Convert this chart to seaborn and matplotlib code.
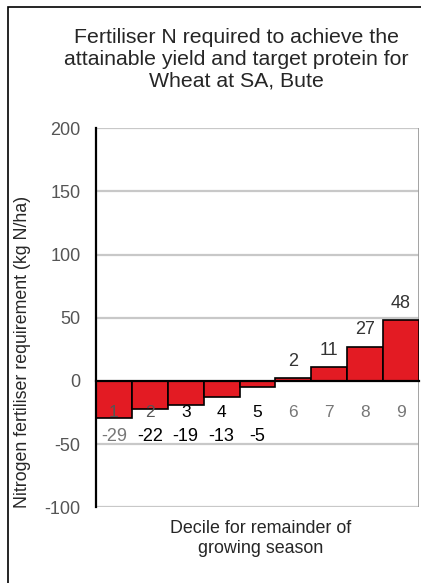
import numpy as np
import pandas as pd
import seaborn as sns
import matplotlib.pyplot as plt
from matplotlib.patches import Rectangle
from matplotlib.ticker import FixedLocator

# 数据
deciles = ["1", "2", "3", "4", "5", "6", "7", "8", "9"]
n_required = [-29, -22, -19, -13, -5, 2, 11, 27, 48]
y_ticks = [-100, -50, 0, 50, 100, 150, 200]

TITLE = "Fertiliser N required to achieve the\nattainable yield and target protein for\nWheat at SA, Bute"
XLABEL = "Decile for remainder of\ngrowing season"
YLABEL = "Nitrogen fertiliser requirement (kg N/ha)"

sns.set_style("white")
plt.rcParams['font.family'] = ['Liberation Sans', 'DejaVu Sans']
plt.rcParams['axes.unicode_minus'] = False

df = pd.DataFrame({"Decile": deciles, "N": n_required})

fig = plt.figure(figsize=(4.21, 5.83), dpi=100)
ax = fig.add_axes([0.228, 0.130, 0.767, 0.650])

sns.barplot(data=df, x="Decile", y="N", color="#E31B23", width=1.0,
            edgecolor="black", linewidth=1.2, saturation=1, ax=ax)

ax.set_xlim(-0.5, len(deciles) - 0.5)
ax.set_ylim(min(y_ticks), max(y_ticks))
ax.set_yticks(y_ticks)
ax.set_axisbelow(False)

# 网格线
for t in y_ticks:
    if t != 0:
        ax.axhline(t, color="#c8c8c8", lw=1.6, zorder=0)

# 坐标轴样式
for s in ["top", "right"]:
    ax.spines[s].set_visible(False)
ax.spines["left"].set_color("black")
ax.spines["left"].set_linewidth(1.6)
ax.spines["bottom"].set_position(("data", 0))
ax.spines["bottom"].set_color("black")
ax.spines["bottom"].set_linewidth(1.6)
ax.spines["bottom"].set_zorder(5)

# 右侧边框
ax.axvline(len(deciles) - 0.5, color="#9a9a9a", lw=2, zorder=0)

ax.tick_params(axis="y", direction="out", length=5, width=1.5, color="black",
               labelsize=13, labelcolor="#555555", pad=6)
ax.tick_params(axis="x", which="major", length=0, pad=17, labelsize=12.5)
ax.xaxis.set_minor_locator(FixedLocator(np.arange(len(deciles) + 1) - 0.5))
ax.tick_params(axis="x", which="minor", direction="out", length=5, width=1.5, color="black")

tick_colors = ["#555555", "#555555", "black", "black", "black",
               "#777777", "#777777", "#777777", "#777777"]
for lbl, c in zip(ax.get_xticklabels(), tick_colors):
    lbl.set_color(c)

ax.set_xlabel("")
ax.set_ylabel(YLABEL, fontsize=12.8, labelpad=4)
ax.yaxis.set_label_coords(-0.2, 0.41)

# 数值标签
NEG_LABEL_Y = -44
for i, v in enumerate(n_required):
    if v < 0:
        c = "#777777" if i == 0 else "black"
        ax.text(i, NEG_LABEL_Y, str(v), ha="center", va="center", fontsize=13, color=c)
    else:
        ax.annotate(str(v), (i, v), xytext=(0, 6), textcoords="offset points",
                    ha="center", va="bottom", fontsize=13, color="#333333")

fig.text(0.562, 0.952, TITLE, ha="center", va="top", fontsize=15.3, linespacing=1.18)
fig.text(0.618, 0.108, XLABEL, ha="center", va="top", fontsize=12.9, linespacing=1.2)

# 外框
fig.patches.append(Rectangle((0.019, -0.01), 1.0, 0.998, transform=fig.transFigure,
                             fill=False, edgecolor="black", lw=1.2))

fig.savefig("out.png", dpi=100)
